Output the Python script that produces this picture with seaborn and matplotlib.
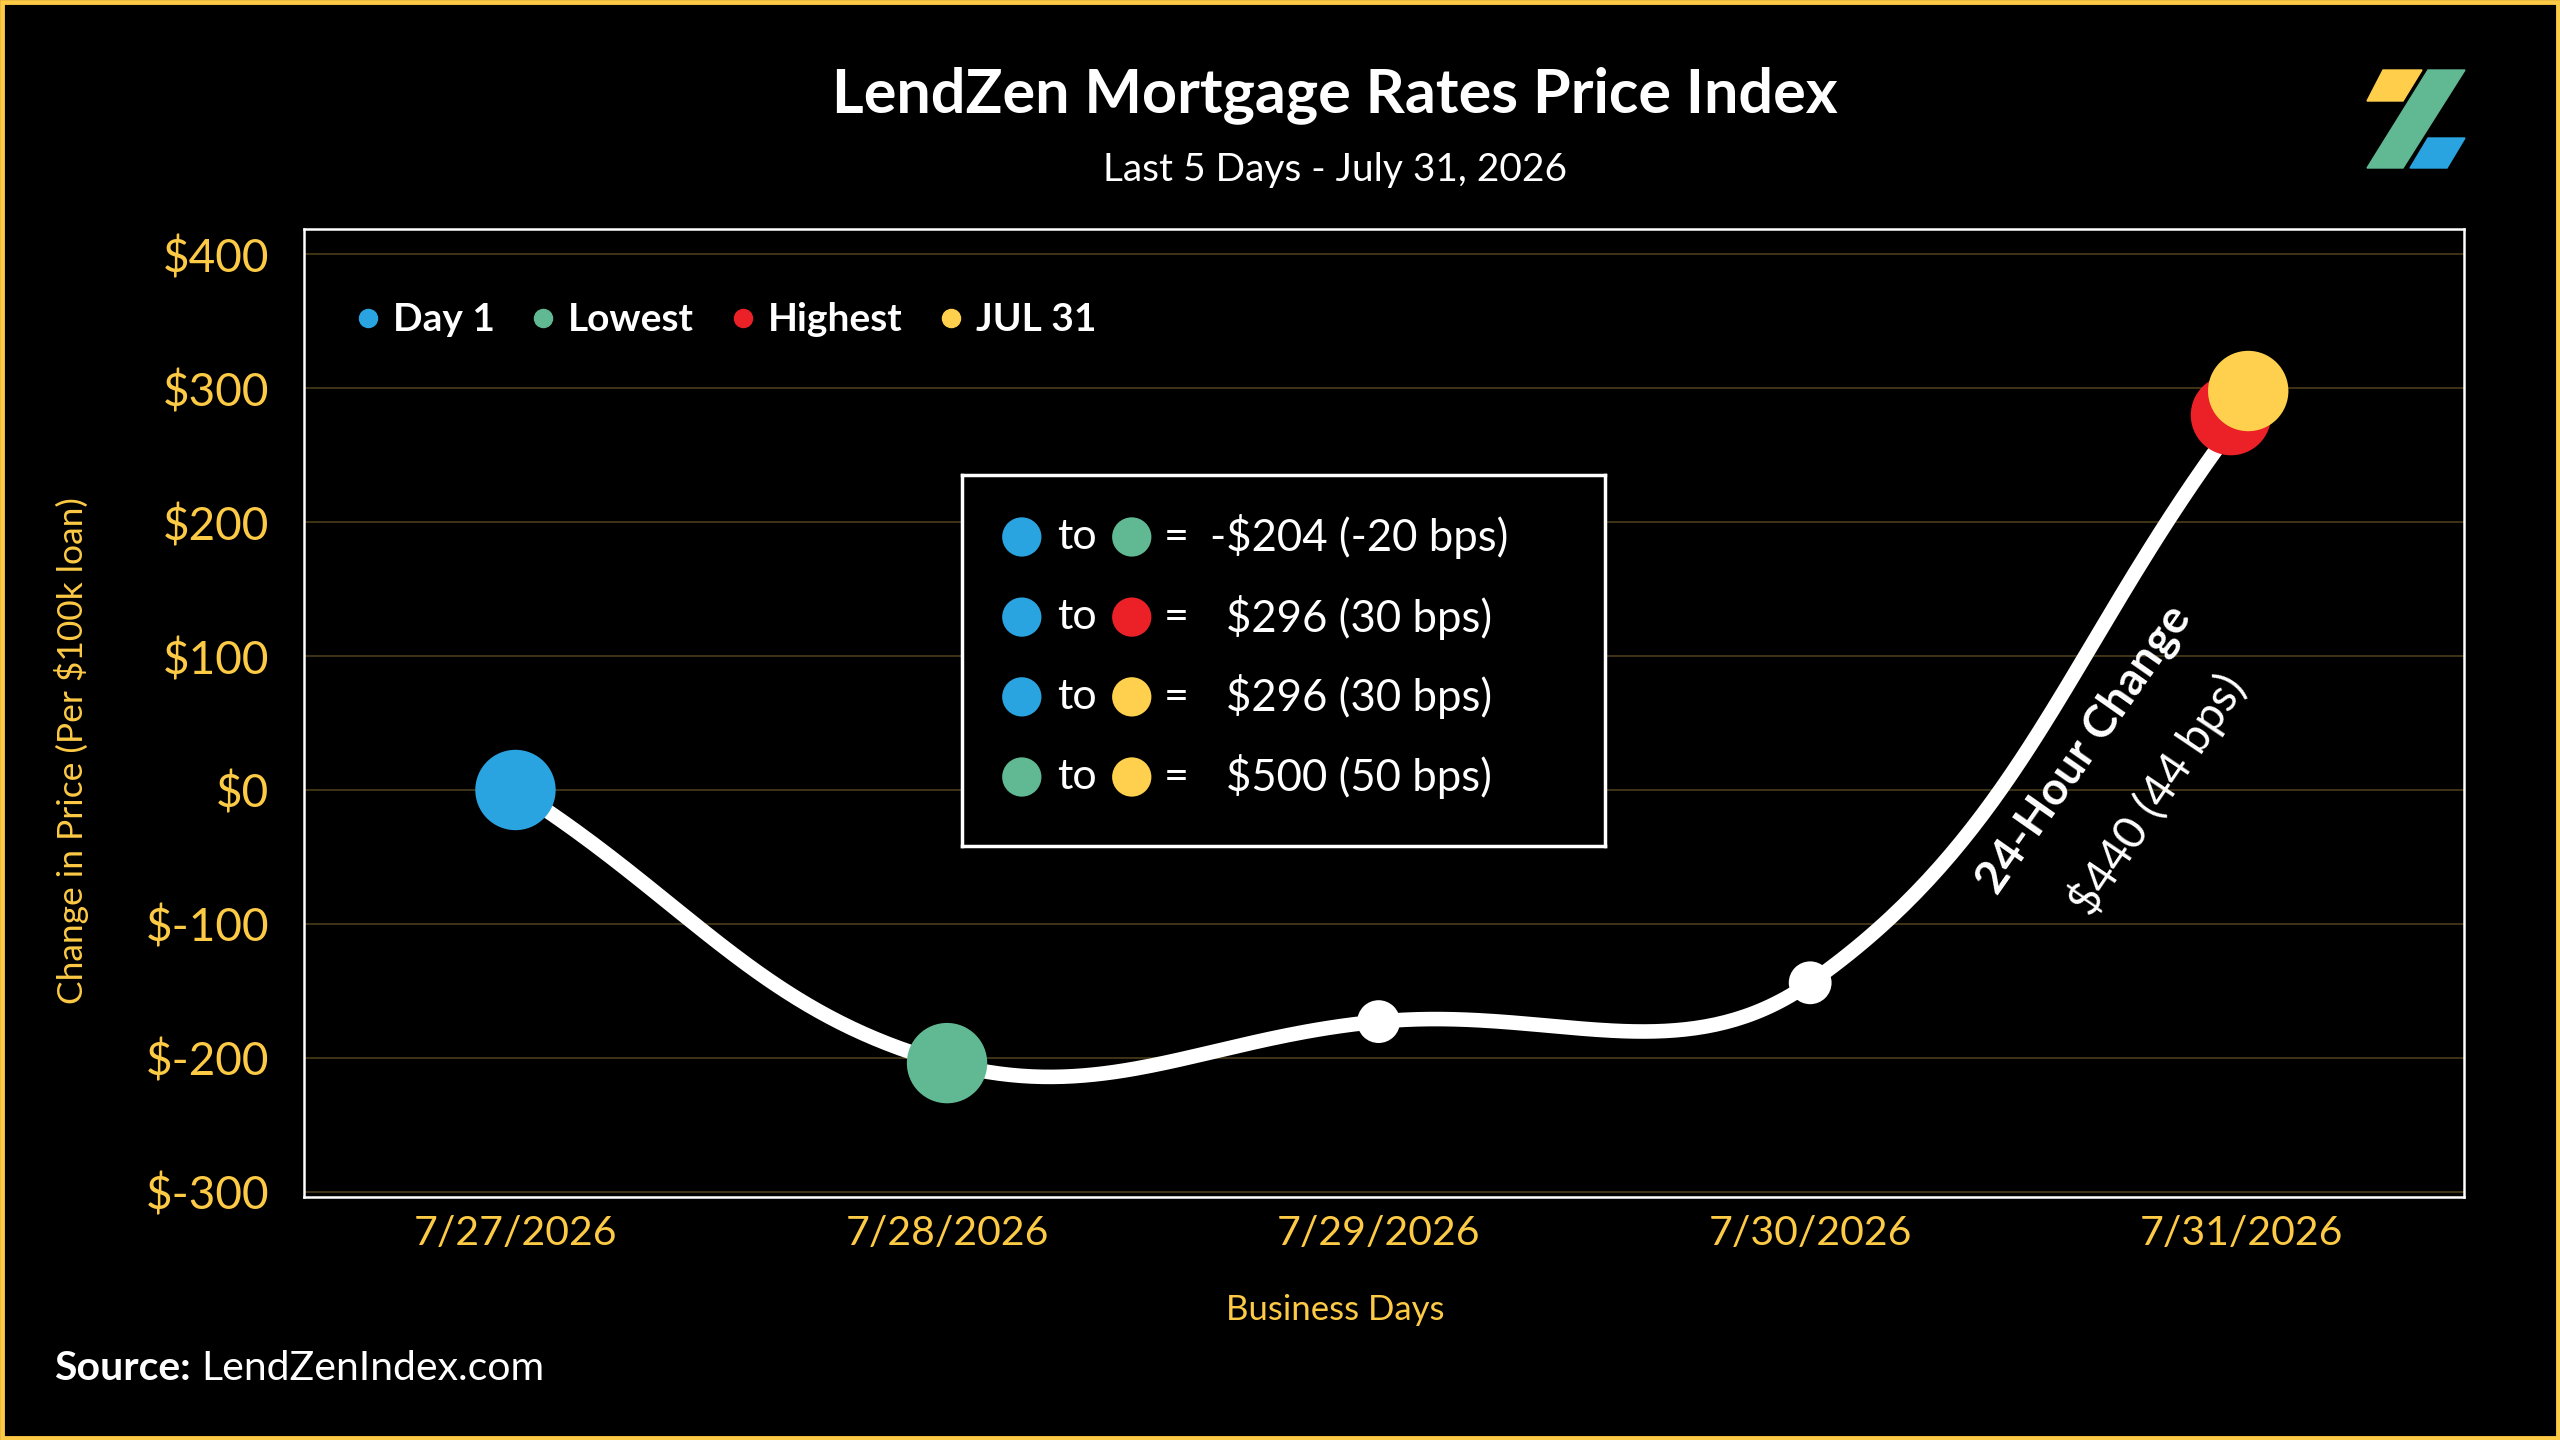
import numpy as np
import matplotlib
matplotlib.use("Agg")
import matplotlib.pyplot as plt
from matplotlib.patches import Polygon, Rectangle
from matplotlib.lines import Line2D
import pandas as pd
import seaborn as sns

# =========== DADOS ===========
days = ["7/27/2026", "7/28/2026", "7/29/2026", "7/30/2026", "7/31/2026"]
price_change = [0, -204, -173, -144, 280]

marker_labels = ["Day 1", "Lowest", "Highest", "JUL 31"]
marker_day_idx = [0, 1, 4, 4]
marker_values = [0, -204, 280, 298]
marker_shift = [0.0, 0.0, -0.025, 0.015]
marker_colors = ["#2AA4E0", "#61B994", "#EC2127", "#FFD04E"]

y_ticks = [-300, -200, -100, 0, 100, 200, 300, 400]
y_tick_labels = ["$-300", "$-200", "$-100", "$0", "$100", "$200", "$300", "$400"]

box_from = ["Day 1", "Day 1", "Day 1", "Lowest"]
box_to = ["Lowest", "Highest", "JUL 31", "JUL 31"]
box_values = ["-$204 (-20 bps)", "$296 (30 bps)", "$296 (30 bps)", "$500 (50 bps)"]

change_title = "24-Hour Change"
change_value = "$440 (44 bps)"

GOLD = "#FCCA45"
GRID = "#4A3D1A"
FONT = "Lato"

sns.set_theme(style="dark")
plt.rcParams["font.family"] = [FONT, "DejaVu Sans"]

fig = plt.figure(figsize=(25.6, 14.4), dpi=100, facecolor="black")
ax = fig.add_axes([304 / 2560, 1 - 1197 / 1440, 2160 / 2560, 968 / 1440])
ax.set_facecolor("black")
ax.set_xlim(-0.49, 4.515)
ax.set_ylim(-304, 419)

# =========== CURVA SUAVE (spline tipo chart.js, em pixels) ===========
xs = np.arange(len(days), dtype=float)
pts = ax.transData.transform(np.column_stack([xs, price_change]))
tension = 0.4
n = len(pts)
ctrl_prev = np.zeros_like(pts)
ctrl_next = np.zeros_like(pts)
for i in range(n):
    p_prev = pts[i - 1] if i > 0 else pts[i]
    p_next = pts[i + 1] if i < n - 1 else pts[i]
    d01 = np.hypot(*(pts[i] - p_prev))
    d12 = np.hypot(*(p_next - pts[i]))
    tot = d01 + d12
    s01 = d01 / tot if tot else 0
    s12 = d12 / tot if tot else 0
    ctrl_prev[i] = pts[i] - tension * s01 * (p_next - p_prev)
    ctrl_next[i] = pts[i] + tension * s12 * (p_next - p_prev)

curve = []
tt = np.linspace(0, 1, 80)[:, None]
for i in range(n - 1):
    p0, p1, p2, p3 = pts[i], ctrl_next[i], ctrl_prev[i + 1], pts[i + 1]
    seg = ((1 - tt) ** 3) * p0 + 3 * ((1 - tt) ** 2) * tt * p1 + 3 * (1 - tt) * tt ** 2 * p2 + tt ** 3 * p3
    curve.append(seg if i == 0 else seg[1:])
curve = ax.transData.inverted().transform(np.vstack(curve))
df_curve = pd.DataFrame({"x": curve[:, 0], "y": curve[:, 1]})

# grade
for yv in y_ticks:
    ax.axhline(yv, color=GRID, lw=1.2, zorder=1)

sns.lineplot(data=df_curve, x="x", y="y", sort=False, color="white", lw=10.5,
             ax=ax, zorder=3, solid_capstyle="round")

# pontos intermediarios brancos
mid_idx = [2, 3]
sns.scatterplot(x=xs[mid_idx], y=[price_change[i] for i in mid_idx], s=950,
                color="white", edgecolor="none", ax=ax, zorder=4)

# pontos destacados
df_mk = pd.DataFrame({
    "x": [xs[i] + d for i, d in zip(marker_day_idx, marker_shift)],
    "y": marker_values,
    "label": marker_labels,
})
sns.scatterplot(data=df_mk, x="x", y="y", hue="label", palette=marker_colors,
                hue_order=marker_labels, s=3350, edgecolor="none", ax=ax,
                zorder=5, legend=False)

# =========== EIXOS ===========
ax.set_xticks(xs)
ax.set_xticklabels(days)
ax.set_yticks(y_ticks)
ax.set_yticklabels(y_tick_labels)
ax.tick_params(axis="x", colors=GOLD, labelsize=29.5, pad=13, length=0)
ax.tick_params(axis="y", colors=GOLD, labelsize=33, pad=25, length=0)
for lab in ax.get_xticklabels() + ax.get_yticklabels():
    lab.set_color(GOLD)
ax.set_xlabel("")
ax.set_ylabel("")
ax.grid(False)
for sp in ax.spines.values():
    sp.set_visible(True)
    sp.set_color("white")
    sp.set_linewidth(1.8)

# legenda
handles = [Line2D([], [], marker="o", ls="", color=c, markersize=13, label=l)
           for l, c in zip(marker_labels, marker_colors)]
leg = ax.legend(handles=handles, ncol=4, loc="center left", bbox_to_anchor=(0.008, 0.906),
                frameon=False, handlelength=0.6, handletextpad=0.34, columnspacing=0.95,
                prop={"family": FONT, "weight": "bold", "size": 28})
for t in leg.get_texts():
    t.set_color("white")

# =========== CAIXA DE COMPARACAO ===========
bx = fig.add_axes([962 / 2560, 1 - 846 / 1440, 643 / 2560, 371 / 1440])
bx.set_facecolor("black")
bx.set_xlim(0, 1)
bx.set_ylim(0, 1)
bx.set_xticks([])
bx.set_yticks([])
for sp in bx.spines.values():
    sp.set_visible(True)
    sp.set_color("white")
    sp.set_linewidth(2.5)
row_y = [0.833, 0.617, 0.402, 0.186]
color_of = dict(zip(marker_labels, marker_colors))
for ry, a, b, val in zip(row_y, box_from, box_to, box_values):
    sns.scatterplot(x=[0.093, 0.264], y=[ry, ry], hue=[a, b + " "],
                    palette=[color_of[a], color_of[b]], s=800, edgecolor="none",
                    ax=bx, legend=False, zorder=3)
    bx.text(0.178, ry, "to", color="white", fontsize=31, ha="center", va="center")
    bx.text(0.333, ry, "=", color="white", fontsize=31, ha="center", va="center")
    bx.text(0.386 if val.startswith("-") else 0.411, ry, val, color="white",
            fontsize=31.5, ha="left", va="center")
bx.set_xlabel("")
bx.set_ylabel("")

# =========== TEXTOS ===========
fig.text(0.5215, 1 - 95 / 1440, "LendZen Mortgage Rates Price Index", color="white",
         fontsize=44, fontweight="bold", ha="center", va="center")
fig.text(0.5215, 1 - 170 / 1440, "Last 5 Days - July 31, 2026", color="white",
         fontsize=28, ha="center", va="center")
fig.text(0.5215, 1 - 1310 / 1440, "Business Days", color=GOLD, fontsize=25,
         ha="center", va="center")
fig.text(72 / 2560, 1 - 751 / 1440, "Change in Price (Per $100k loan)", color=GOLD,
         fontsize=25.5, rotation=90, ha="center", va="center")

renderer = fig.canvas.get_renderer()
src = fig.text(54 / 2560, 1 - 1369 / 1440, "Source:", color="white", fontsize=29.5,
               fontweight="bold", ha="left", va="center")
ext = src.get_window_extent(renderer=renderer)
fig.text((ext.x1 + 11) / 2560, 1 - 1369 / 1440, "LendZenIndex.com", color="white",
         fontsize=29.5, ha="left", va="center")

fig.text(2084 / 2560, 1 - 749 / 1440, change_title, color="white", fontsize=33,
         fontweight="bold", rotation=55, rotation_mode="anchor", ha="center", va="center")
fig.text(2157 / 2560, 1 - 794 / 1440, change_value, color="white", fontsize=33,
         fontweight="normal", rotation=56, rotation_mode="anchor", ha="center", va="center")

# =========== LOGO ===========
def px(pts_px):
    return [(x / 2560, 1 - y / 1440) for x, y in pts_px]

fig.patches.append(Polygon(px([(2367, 101), (2383, 70), (2422, 70), (2403, 101)]),
                           closed=True, transform=fig.transFigure, color="#FFCE4B"))
fig.patches.append(Polygon(px([(2367, 168), (2428, 70), (2465, 70), (2403, 168)]),
                           closed=True, transform=fig.transFigure, color="#61B994"))
fig.patches.append(Polygon(px([(2410, 168), (2428, 138), (2465, 138), (2447, 168)]),
                           closed=True, transform=fig.transFigure, color="#2AA4E0"))

# borda dourada
fig.patches.append(Rectangle((0.0008, 0.0014), 0.9984, 0.9972, transform=fig.transFigure,
                             fill=False, edgecolor=GOLD, lw=3.5))

fig.savefig("out.png", dpi=100, facecolor="black")
